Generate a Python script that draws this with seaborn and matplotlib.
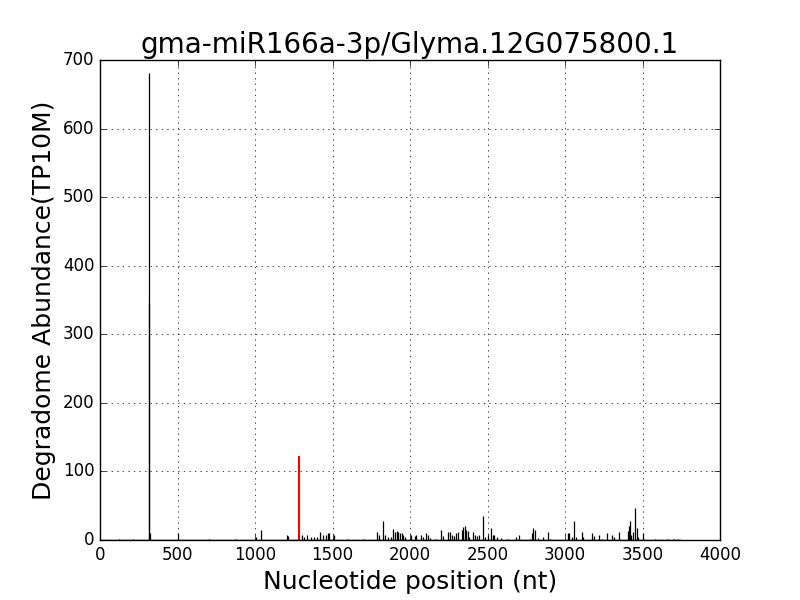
"""
T-plot degradome -- gma-miR166a-3p / Glyma.12G075800.1
"""

import pandas as pd
import numpy as np
import matplotlib
matplotlib.use('Agg')
import matplotlib.pyplot as plt
import seaborn as sns

title = 'gma-miR166a-3p/Glyma.12G075800.1'

# positions (nt) and abundances (TP10M)
positions = [319, 318, 324, 505, 1004, 1036, 1205, 1210,
             1305, 1318, 1338, 1359, 1381, 1398, 1419, 1441, 1456, 1469, 1475, 1507,
             1789, 1802, 1828, 1839, 1860, 1875, 1892, 1903, 1914, 1925, 1935, 1946,
             1957, 1968, 2004, 2032, 2039, 2069, 2082, 2101, 2118, 2129, 2161, 2202,
             2215, 2247, 2258, 2269, 2284, 2297, 2312, 2333, 2344, 2353, 2361, 2372,
             2383, 2409, 2419, 2434, 2445, 2473, 2484, 2505, 2523, 2534, 2545, 2560,
             2587, 2634, 2682, 2703, 2774, 2789, 2796, 2806, 2824, 2860, 2892, 2903,
             3017, 3028, 3043, 3058, 3069, 3107, 3114, 3176, 3189, 3221, 3241, 3273,
             3305, 3318, 3348, 3404, 3411, 3419, 3428, 3441, 3454, 3462, 3471, 3505,
             3581, 3656, 3700, 3730, 120, 210, 700, 880, 1600, 1700]
abundance = [681, 345, 10, 10, 5, 14, 7, 6,
             7, 5, 8, 4, 5, 4, 11, 7, 8, 10, 10, 8,
             12, 7, 27, 7, 5, 4, 16, 11, 13, 12, 10, 10,
             7, 5, 7, 6, 7, 8, 5, 10, 8, 3, 2, 15,
             6, 11, 11, 8, 6, 10, 11, 15, 19, 20, 15, 13,
             5, 11, 8, 6, 8, 35, 5, 7, 18, 8, 7, 5,
             3, 2, 5, 7, 2, 10, 18, 15, 3, 5, 12, 2,
             10, 10, 5, 27, 5, 11, 5, 10, 6, 7, 2, 10,
             8, 5, 11, 13, 20, 27, 8, 11, 46, 18, 5, 10,
             1, 1, 1, 1, 1, 1, 1, 1, 1, 1]

# cleavage site (red)
site_pos = [1281]
site_val = [122]

df = pd.DataFrame({'pos': positions, 'val': abundance})

sns.set_context('notebook', rc={'font.size': 12})
plt.style.use('classic')

fig, ax = plt.subplots(figsize=(8, 6), dpi=100)
ax.vlines(df['pos'], 0, df['val'], colors='black', linewidth=0.9)
ax.vlines(site_pos, 0, site_val, colors='red', linewidth=1.5)
ax.plot([0, 3750], [0, 0], color='black', linewidth=1)

ax.set_xlim(0, 4000)
ax.set_ylim(0, 700)
ax.grid(True)
ax.set_title(title, fontsize=20)
ax.set_xlabel('Nucleotide position (nt)', fontsize=18)
ax.set_ylabel('Degradome Abundance(TP10M)', fontsize=18)
ax.tick_params(labelsize=12)

plt.savefig('out.png', dpi=100)
plt.close()
